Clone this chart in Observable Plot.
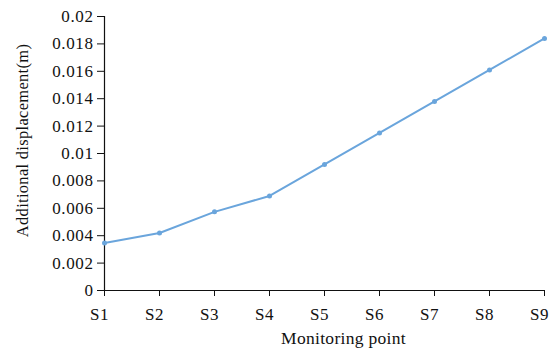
<!DOCTYPE html>
<html>
<head>
<meta charset="utf-8">
<script src="https://cdn.jsdelivr.net/npm/d3@7"></script>
<script src="https://cdn.jsdelivr.net/npm/@observablehq/plot@0.6"></script>
<style>
  html, body { margin: 0; padding: 0; background: #fff; }
  #chart svg text { font-family: "Liberation Serif", "Times New Roman", serif !important; }
  #chart svg g[aria-label="y-axis tick label"] text,
  #chart svg g[aria-label="x-axis tick label"] text { font-size: 17px !important; letter-spacing: 0.6px; font-variant-numeric: normal !important; }
  #chart svg g[aria-label="text"] text { letter-spacing: 0.3px; }
</style>
</head>
<body>
<div id="chart"></div>
<script>
const points = ["S1", "S2", "S3", "S4", "S5", "S6", "S7", "S8", "S9"];
const displacement = [0.00347, 0.0042, 0.00574, 0.0069, 0.0092, 0.0115, 0.0138, 0.0161, 0.0184];
const yTicks = [0, 0.002, 0.004, 0.006, 0.008, 0.01, 0.012, 0.014, 0.016, 0.018, 0.02];
const yTickLabels = ["0", "0.002", "0.004", "0.006", "0.008", "0.01", "0.012", "0.014", "0.016", "0.018", "0.02"];
const xTitle = "Monitoring point";
const yTitle = "Additional displacement(m)";

const data = points.map((p, i) => ({point: p, value: displacement[i]}));
const lineColor = "#6aa5dc";
const serif = "'Liberation Serif', 'Times New Roman', serif";

const chart = Plot.plot({
  width: 552,
  height: 351,
  marginLeft: 104,
  marginRight: 8,
  marginTop: 16,
  marginBottom: 61,
  style: {fontFamily: serif, fontSize: "16px", color: "#111", background: "#fff"},
  x: {type: "point", domain: points, padding: 0},
  y: {domain: [0, 0.02]},
  marks: [
    Plot.axisY({ticks: yTicks, tickFormat: (d) => yTickLabels[yTicks.indexOf(d)], tickSize: 7, tickPadding: 4, label: null, fill: "#111", stroke: "#111"}),
    Plot.axisX({tickSize: 6, text: null, label: null, stroke: "#111"}),
    Plot.axisX({tickSize: 0, tickPadding: 17, dx: -5, label: null, fill: "#111"}),
    Plot.ruleY([0], {stroke: "#111", strokeWidth: 1.2}),
    Plot.ruleX([points[0]], {stroke: "#111", strokeWidth: 1.2}),
    Plot.line(data, {x: "point", y: "value", stroke: lineColor, strokeWidth: 2}),
    Plot.dot(data, {x: "point", y: "value", fill: lineColor, r: 2.5}),
    Plot.text([xTitle], {frameAnchor: "bottom", dx: 19, dy: 53, fontSize: 17.5, fill: "#111", fontFamily: serif}),
    Plot.text([yTitle], {frameAnchor: "left", textAnchor: "middle", rotate: -90, dx: -82, dy: -13, fontSize: 16.5, fill: "#111", fontFamily: serif})
  ]
});
document.getElementById("chart").appendChild(chart);
</script>
</body>
</html>
